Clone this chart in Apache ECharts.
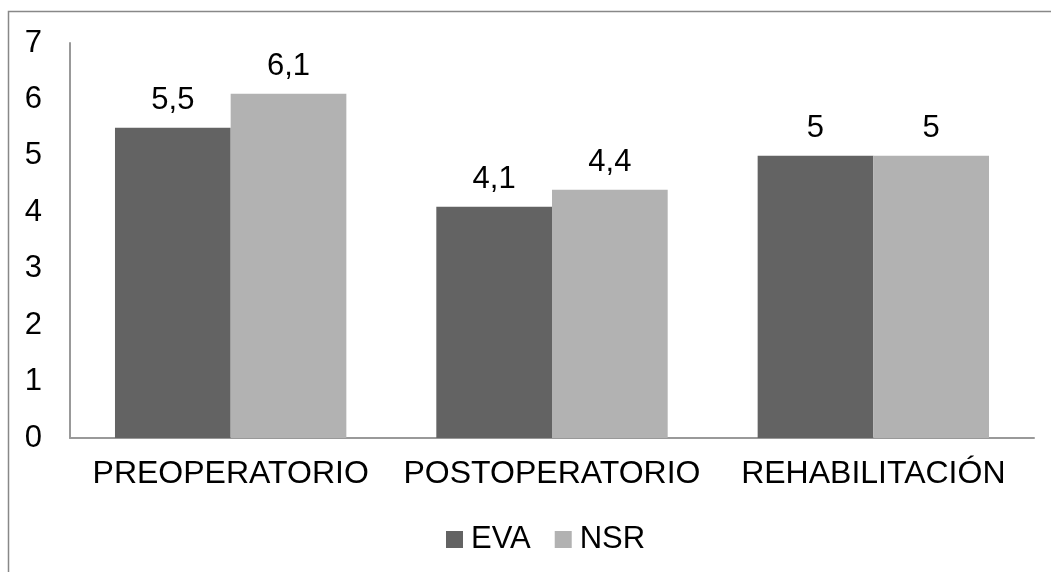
<!DOCTYPE html>
<html>
<head>
<meta charset="utf-8">
<script src="https://cdn.jsdelivr.net/npm/echarts@6/dist/echarts.min.js"></script>
<style>html,body{margin:0;padding:0;background:#fff}#c{width:1051px;height:572px}</style>
</head>
<body>
<div id="c"></div>
<script>
const categories = ['PREOPERATORIO', 'POSTOPERATORIO', 'REHABILITACIÓN'];
const evaValues = [5.5, 4.1, 5];
const nsrValues = [6.1, 4.4, 5];
const yTicks = [0, 1, 2, 3, 4, 5, 6, 7];

const chart = echarts.init(document.getElementById('c'));
const font = 'Liberation Sans, Arial, sans-serif';
const lbl = {
  show: true, position: 'top', distance: 12,
  fontFamily: font, fontSize: 31, color: '#000',
  formatter: p => String(p.value).replace('.', ',')
};
chart.setOption({
  animation: false,
  backgroundColor: '#fff',
  graphic: [{
    type: 'polyline',
    shape: { points: [[8.5, 572], [8.5, 11.5], [1051, 11.5]] },
    style: { stroke: '#888', lineWidth: 1.5, fill: null }
  }],
  grid: { left: 70, right: 17, top: 43, bottom: 134 },
  legend: {
    top: 519, left: 441, itemWidth: 17, itemHeight: 17, itemGap: 24,
    icon: 'rect',
    textStyle: { fontFamily: font, fontSize: 31, color: '#000', padding: [0, 0, 0, 3] },
    data: ['EVA', 'NSR']
  },
  xAxis: {
    type: 'category', data: categories,
    axisLine: { lineStyle: { color: '#999', width: 2 } },
    axisTick: { show: false },
    axisLabel: { fontFamily: font, fontSize: 32, color: '#000', margin: 20, interval: 0 }
  },
  yAxis: {
    type: 'value', min: yTicks[0], max: yTicks[yTicks.length - 1], interval: 1,
    axisLine: { show: true, lineStyle: { color: '#999', width: 2 } },
    axisTick: { show: false },
    splitLine: { show: false },
    axisLabel: { fontFamily: font, fontSize: 31, color: '#000', margin: 28 }
  },
  series: [
    { name: 'EVA', type: 'bar', data: evaValues, barGap: '0%', barCategoryGap: '28%',
      itemStyle: { color: '#636363' }, label: lbl },
    { name: 'NSR', type: 'bar', data: nsrValues, barGap: '0%', barCategoryGap: '28%',
      itemStyle: { color: '#b2b2b2' }, label: lbl }
  ]
});
</script>
</body>
</html>
